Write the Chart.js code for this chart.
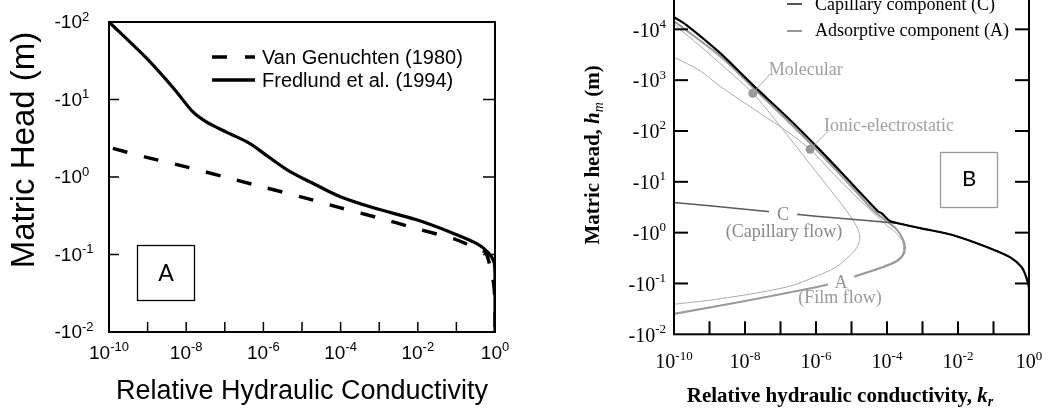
<!DOCTYPE html>
<html>
<head>
<meta charset="utf-8">
<script src="https://cdn.jsdelivr.net/npm/chart.js@4.4.1/dist/chart.umd.min.js"></script>
<style>
  body { margin: 0; background: #fff; }
  #wrap { position: relative; width: 1048px; height: 412px; overflow: hidden; }
  #ca { position: absolute; left: 0; top: 0; }
  #cb { position: absolute; left: 520px; top: -40px; }
</style>
</head>
<body>
<div id="wrap">
  <canvas id="ca" width="520" height="412"></canvas>
  <canvas id="cb" width="528" height="452"></canvas>
</div>
<script>
// ---- panel A: relative hydraulic conductivity vs matric head (m)
var vgK = [1.26e-10, 1e-9, 1e-8, 1e-7, 1e-6, 1e-5, 1e-4, 1e-3, 1e-2, 0.1, 0.32, 0.56, 0.74, 0.85, 0.955, 1, 1];
var vgH = [-2.34, -1.78, -1.35, -1.0, -0.74, -0.55, -0.40, -0.295, -0.214, -0.155, -0.12, -0.107, -0.072, -0.054, -0.035, -0.02, -0.01];
var frK = [1e-10, 9.5e-10, 4.7e-9, 1.5e-8, 3.4e-8, 1.1e-7, 4.5e-7, 1.2e-6, 4.9e-6, 1.9e-5, 9.5e-5, 7.1e-4, 9.3e-3, 0.068, 0.34, 0.68, 0.955, 1, 1];
var frH = [-100, -33.9, -14.0, -6.9, -5.1, -3.8, -2.7, -1.9, -1.17, -0.83, -0.56, -0.40, -0.28, -0.195, -0.138, -0.105, -0.078, -0.05, -0.01];
var xExpA = [-10, -8, -6, -4, -2, 0];
var yExpA = [2, 1, 0, -1, -2];
var legendA = ['Van Genuchten (1980)', 'Fredlund et al. (1994)'];

// ---- panel B: total, capillary and adsorptive components
var totK = [1e-10, 2.3e-10, 2.0e-9, 1.7e-8, 1.5e-7, 1.3e-6, 1.1e-5, 5.6e-5, 7.1e-5, 1.2e-4, 1.9e-4, 8.5e-4, 7.4e-3, 0.065, 0.29, 0.62, 0.83, 1, 1];
var totH = [-17400, -12000, -3400, -790, -190, -42, -8.7, -2.6, -2.4, -1.7, -1.55, -1.23, -0.89, -0.52, -0.33, -0.21, -0.135, -0.08, -0.01];
var capK = [1e-10, 1e-8, 1e-6, 3.2e-5, 2.3e-4, 8.5e-4, 7.4e-3, 0.065, 0.29, 0.62, 0.83, 1, 1];
var capH = [-3.9, -2.9, -2.1, -1.72, -1.5, -1.23, -0.89, -0.52, -0.33, -0.21, -0.135, -0.08, -0.01];
var adsK = [1e-10, 2.0e-9, 1.7e-8, 1.48e-7, 1.29e-6, 1.12e-5, 4.0e-5, 1.0e-4, 1.78e-4, 2.7e-4, 3.2e-4, 2.75e-4, 1.4e-4, 1.26e-5, 2.2e-6, 1.5e-7, 5.9e-9, 1e-10];
var adsH = [-14500, -2950, -710, -166, -36.3, -7.4, -2.8, -1.66, -1.2, -0.79, -0.52, -0.35, -0.245, -0.138, -0.095, -0.065, -0.042, -0.025];
var molK = [1e-10, 1.26e-9, 1.66e-8, 8.5e-8, 1e-6, 5e-6, 1.02e-5, 1.48e-5, 1.7e-5, 1.51e-5, 1e-5, 3.8e-6, 1e-6, 1.48e-7, 2e-9, 1e-10];
var molH = [-12600, -2820, -550, -141, -15.8, -3.8, -1.9, -1.2, -0.81, -0.56, -0.38, -0.214, -0.138, -0.085, -0.05, -0.039];
var ionK = [1e-10, 5e-10, 2e-9, 1.26e-8, 5e-8, 8.5e-8, 6.8e-7, 3.16e-6, 1.1e-5, 4e-5, 1e-4, 1.78e-4, 2.63e-4, 2.95e-4, 2.5e-4, 1.26e-4, 1.26e-5, 2.2e-6, 1.5e-7, 5.9e-9, 1e-10];
var ionH = [-2820, -1585, -759, -316, -166, -132, -43.6, -14.1, -5.9, -2.5, -1.38, -1.0, -0.71, -0.5, -0.34, -0.25, -0.141, -0.098, -0.066, -0.043, -0.026];
var dotK = [1.66e-8, 6.8e-7];
var dotH = [-550, -43.6];
var dotNames = ['Molecular', 'Ionic-electrostatic'];
var xExpB = [-10, -8, -6, -4, -2, 0];
var yExpB = [4, 3, 2, 1, 0, -1, -2];
var legendB = ['Capillary component (C)', 'Adsorptive component (A)'];

var SANS = '"Liberation Sans", Arial, sans-serif';
var SERIF = '"Liberation Serif", "Times New Roman", serif';

function pts(k, h) {
  return k.map(function (v, i) { return { x: v, y: Math.abs(h[i]) }; });
}

// base text with a raised exponent; align = left | right | center | baseright
function supText(ctx, base, exp, x, y, align, f1, f2, rise) {
  ctx.font = f1; var w1 = ctx.measureText(base).width;
  ctx.font = f2; var w2 = ctx.measureText(exp).width;
  var x0 = x;
  if (align == 'right') x0 = x - w1 - w2;
  else if (align == 'center') x0 = x - (w1 + w2) / 2;
  else if (align == 'baseright') x0 = x - w1;
  ctx.textAlign = 'left'; ctx.textBaseline = 'middle';
  ctx.font = f1; ctx.fillText(base, x0, y);
  ctx.font = f2; ctx.fillText(exp, x0 + w1, y - rise);
}

function line(ctx, x1, y1, x2, y2) {
  ctx.beginPath(); ctx.moveTo(x1, y1); ctx.lineTo(x2, y2); ctx.stroke();
}

var decorA = {
  id: 'decorA',
  afterDatasetsDraw: function (chart) {
    var ctx = chart.ctx, a = chart.chartArea, xs = chart.scales.x, ys = chart.scales.y;
    ctx.save();
    ctx.strokeStyle = '#000'; ctx.fillStyle = '#000';
    ctx.lineWidth = 2;
    ctx.strokeRect(a.left, a.top, a.right - a.left, a.bottom - a.top);
    ctx.lineWidth = 1.5;
    for (var e = -9; e < 0; e++) {
      var px = xs.getPixelForValue(Math.pow(10, e));
      line(ctx, px, a.bottom, px, a.bottom - 10);
    }
    yExpA.forEach(function (e) {
      var py = ys.getPixelForValue(Math.pow(10, e));
      line(ctx, a.left, py, a.left + 10, py);
      line(ctx, a.right, py, a.right - 12, py);
    });
    var f1 = '19px ' + SANS, f2 = '13px ' + SANS;
    xExpA.forEach(function (e) {
      supText(ctx, '10', String(e), xs.getPixelForValue(Math.pow(10, e)), a.bottom + 22, 'center', f1, f2, 7);
    });
    yExpA.forEach(function (e) {
      supText(ctx, '-10', String(e), a.left - 27, ys.getPixelForValue(Math.pow(10, e)) + 1, 'baseright', f1, f2, 6);
    });
    // axis titles
    ctx.textAlign = 'center'; ctx.textBaseline = 'middle';
    ctx.font = '27px ' + SANS;
    ctx.fillText('Relative Hydraulic Conductivity', (a.left + a.right) / 2, 392);
    ctx.save();
    ctx.translate(25, 150); ctx.rotate(-Math.PI / 2);
    ctx.font = '33px ' + SANS;
    ctx.fillText('Matric Head (m)', 0, 0);
    ctx.restore();
    // legend
    ctx.lineWidth = 3.5;
    ctx.setLineDash([15, 18]);
    line(ctx, 212, 57, 255, 57);
    ctx.setLineDash([]);
    line(ctx, 212, 80, 255, 80);
    ctx.font = '20px ' + SANS; ctx.textAlign = 'left';
    ctx.fillText(legendA[0], 262, 58);
    ctx.fillText(legendA[1], 262, 81);
    // panel tag
    ctx.lineWidth = 1.3;
    ctx.strokeRect(137.5, 245.5, 57, 55);
    ctx.font = '23px Lato, ' + SANS; ctx.textAlign = 'center';
    ctx.fillText('A', 166, 274);
    ctx.restore();
  }
};

var decorB = {
  id: 'decorB',
  afterDatasetsDraw: function (chart) {
    var ctx = chart.ctx, a = chart.chartArea, xs = chart.scales.x, ys = chart.scales.y;
    ctx.save();
    // gaps in the curves for the labels
    ctx.fillStyle = '#fff';
    ctx.fillRect(249, 246, 28, 18);
    ctx.fillRect(308, 314, 26, 18);
    ctx.textAlign = 'center'; ctx.textBaseline = 'middle';
    ctx.font = '18px ' + SERIF;
    ctx.fillStyle = '#888';
    ctx.fillText('C', 263, 255);
    ctx.fillText('(Capillary flow)', 264, 272);
    ctx.fillStyle = '#999';
    ctx.fillText('A', 321, 323);
    ctx.fillText('(Film flow)', 320, 338);
    // marked points and their names
    var offs = [[17, -19, 53, -23], [18, -18, 79, -23]];
    ctx.strokeStyle = '#aaa'; ctx.lineWidth = 1;
    dotK.forEach(function (k, i) {
      var px = xs.getPixelForValue(k), py = ys.getPixelForValue(Math.abs(dotH[i]));
      line(ctx, px, py, px + offs[i][0], py + offs[i][1]);
      ctx.fillStyle = '#a0a0a0';
      ctx.fillText(dotNames[i], px + offs[i][2], py + offs[i][3]);
    });
    // frame and ticks
    ctx.strokeStyle = '#000'; ctx.fillStyle = '#000';
    ctx.lineWidth = 2;
    ctx.strokeRect(a.left, a.top, a.right - a.left, a.bottom - a.top);
    for (var e = -9; e < 0; e++) {
      var px = xs.getPixelForValue(Math.pow(10, e));
      line(ctx, px, a.bottom, px, a.bottom - 13);
    }
    for (var e = -1; e < 5; e++) {
      var py = ys.getPixelForValue(Math.pow(10, e));
      line(ctx, a.left, py, a.left + 14, py);
      line(ctx, a.right, py, a.right - 14, py);
    }
    var f1 = '20px ' + SERIF, f2 = '13px ' + SERIF;
    xExpB.forEach(function (e) {
      supText(ctx, '10', String(e), xs.getPixelForValue(Math.pow(10, e)), a.bottom + 28, 'center', f1, f2, 6);
    });
    yExpB.forEach(function (e) {
      supText(ctx, '-10', String(e), a.left - 8, ys.getPixelForValue(Math.pow(10, e)) + 2, 'right', f1, f2, 7);
    });
    // x title with italic k_r
    var t1 = 'Relative hydraulic conductivity, ';
    var fb = 'bold 21px ' + SERIF, fi = 'italic bold 21px ' + SERIF, fs = 'italic bold 14px ' + SERIF;
    ctx.font = fb; var w1 = ctx.measureText(t1).width;
    ctx.font = fi; var w2 = ctx.measureText('k').width;
    ctx.font = fs; var w3 = ctx.measureText('r').width;
    var x0 = 320 - (w1 + w2 + w3) / 2, ty = 437;
    ctx.textAlign = 'left';
    ctx.font = fb; ctx.fillText(t1, x0, ty);
    ctx.font = fi; ctx.fillText('k', x0 + w1, ty);
    ctx.font = fs; ctx.fillText('r', x0 + w1 + w2, ty + 5);
    // y title with italic h_m
    ctx.save();
    ctx.translate(74, 195); ctx.rotate(-Math.PI / 2);
    var p1 = 'Matric head, ', p4 = ' (m)';
    ctx.font = fb; var v1 = ctx.measureText(p1).width, v4 = ctx.measureText(p4).width;
    ctx.font = fi; var v2 = ctx.measureText('h').width;
    ctx.font = 'italic 14px ' + SERIF; var v3 = ctx.measureText('m').width;
    var s0 = -(v1 + v2 + v3 + v4) / 2;
    ctx.font = fb; ctx.fillText(p1, s0, 0);
    ctx.font = fi; ctx.fillText('h', s0 + v1, 0);
    ctx.font = 'italic 14px ' + SERIF; ctx.fillText('m', s0 + v1 + v2, 5);
    ctx.font = fb; ctx.fillText(p4, s0 + v1 + v2 + v3, 0);
    ctx.restore();
    // legend (top entries cut by the frame of the figure)
    ctx.lineWidth = 2;
    ctx.strokeStyle = '#555'; line(ctx, 267, 44, 282, 44);
    ctx.strokeStyle = '#999'; line(ctx, 267, 71, 282, 71);
    ctx.font = '18px ' + SERIF; ctx.fillStyle = '#000';
    ctx.fillText(legendB[0], 295, 45);
    ctx.fillText(legendB[1], 295, 71);
    // panel tag
    ctx.lineWidth = 1.3;
    ctx.strokeRect(420.5, 192.5, 57, 55);
    ctx.font = '22px Lato, ' + SANS; ctx.textAlign = 'center';
    ctx.fillText('B', 449, 219);
    ctx.restore();
  }
};

function logScales(xmin, xmax, ymin, ymax) {
  return {
    x: { type: 'logarithmic', min: xmin, max: xmax, display: false },
    y: { type: 'logarithmic', min: ymin, max: ymax, display: false }
  };
}

new Chart(document.getElementById('ca'), {
  type: 'scatter',
  data: {
    datasets: [
      { label: legendA[1], data: pts(frK, frH), showLine: true, borderColor: '#000', borderWidth: 3.2, pointRadius: 0, tension: 0.3 },
      { label: legendA[0], data: pts(vgK, vgH), showLine: true, borderColor: '#000', borderWidth: 3.4, borderDash: [15, 17], pointRadius: 0, tension: 0.3 }
    ]
  },
  options: {
    responsive: false,
    animation: false,
    layout: { padding: { left: 109, right: 25, top: 22, bottom: 80 } },
    plugins: { legend: { display: false }, tooltip: { enabled: false } },
    scales: logScales(1e-10, 1, 0.01, 100)
  },
  plugins: [decorA]
});

new Chart(document.getElementById('cb'), {
  type: 'scatter',
  data: {
    datasets: [
      { label: 'points', data: pts(dotK, dotH), pointRadius: 4.5, pointBackgroundColor: '#999', pointBorderWidth: 0, showLine: false },
      { label: 'Total', data: pts(totK, totH), showLine: true, borderColor: '#000', borderWidth: 2.2, pointRadius: 0, tension: 0.3 },
      { label: legendB[0], data: pts(capK, capH), showLine: true, borderColor: '#5a5a5a', borderWidth: 1.5, pointRadius: 0, tension: 0.3 },
      { label: legendB[1], data: pts(adsK, adsH), showLine: true, borderColor: '#999', borderWidth: 2, pointRadius: 0, tension: 0.35 },
      { label: dotNames[1], data: pts(ionK, ionH), showLine: true, borderColor: '#aaa', borderWidth: 1, pointRadius: 0, tension: 0.35 },
      { label: dotNames[0], data: pts(molK, molH), showLine: true, borderColor: '#aaa', borderWidth: 1, pointRadius: 0, tension: 0.35 }
    ]
  },
  options: {
    responsive: false,
    animation: false,
    layout: { padding: { left: 154, right: 19, top: 18.5, bottom: 77.7 } },
    plugins: { legend: { display: false }, tooltip: { enabled: false } },
    scales: logScales(1e-10, 1, 0.01, 1e5)
  },
  plugins: [decorB]
});
</script>
</body>
</html>
